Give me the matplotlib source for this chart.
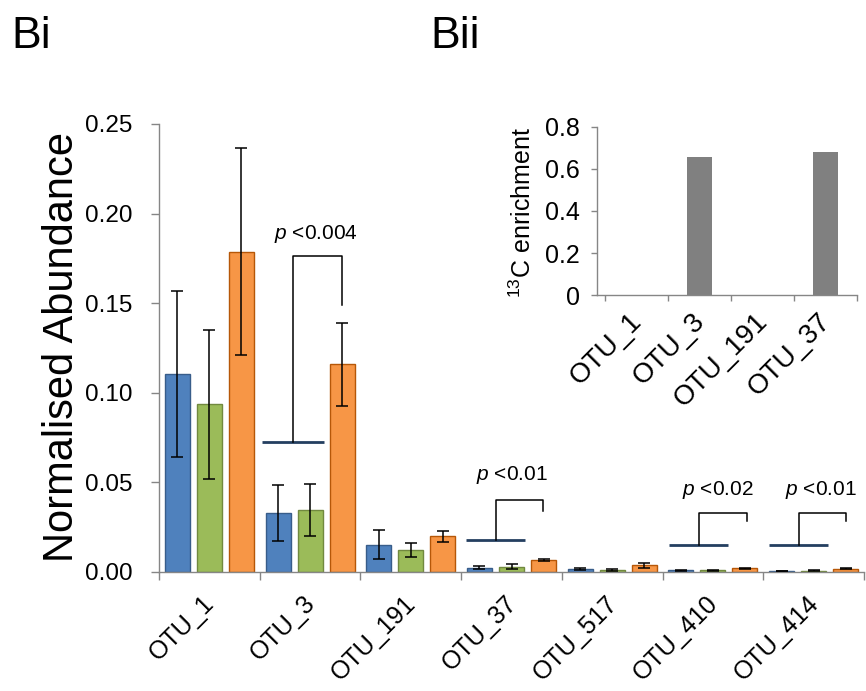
"""Normalised abundance of OTUs per treatment, with 13C enrichment inset."""

import matplotlib

matplotlib.use("Agg")
import matplotlib.pyplot as plt
import matplotlib.transforms as mtransforms
import numpy as np

plt.rcParams.update(
    {
        "font.family": ["Liberation Sans", "DejaVu Sans"],
        "mathtext.fontset": "custom",
        "mathtext.rm": "Liberation Sans",
        "mathtext.it": "Liberation Sans:italic",
    }
)

# main panel data
otus = ["OTU_1", "OTU_3", "OTU_191", "OTU_37", "OTU_517", "OTU_410", "OTU_414"]
blue = [0.1104, 0.0330, 0.0153, 0.0025, 0.0019, 0.0009, 0.0006]
blue_err = [0.0463, 0.0155, 0.0082, 0.0008, 0.0006, 0.0003, 0.0002]
green = [0.0935, 0.0346, 0.0123, 0.0030, 0.0013, 0.0009, 0.0008]
green_err = [0.0414, 0.0144, 0.0041, 0.0016, 0.0005, 0.0002, 0.0002]
orange = [0.1787, 0.1158, 0.0199, 0.0069, 0.0037, 0.0020, 0.0019]
orange_err = [0.0577, 0.0233, 0.0030, 0.0005, 0.0014, 0.0004, 0.0003]
y_ticks = [0.00, 0.05, 0.10, 0.15, 0.20, 0.25]

# inset data
inset_otus = ["OTU_1", "OTU_3", "OTU_191", "OTU_37"]
enrichment = [0.0, 0.655, 0.0, 0.681]
inset_ticks = [0, 0.2, 0.4, 0.6, 0.8]

# significance brackets: label, (base x0, x1, y), (left x, right x, top y, right drop y), text (x, y)
brackets = [
    ("<0.004", (0.522, 1.135, 0.0723), (0.830, 1.317, 0.1763, 0.1489), (1.057, 0.1858)),
    ("<0.01", (2.551, 3.131, 0.0179), (2.843, 3.316, 0.0400, 0.0343), (3.005, 0.0512)),
    ("<0.02", (4.564, 5.150, 0.0153), (4.859, 5.336, 0.0332, 0.0285), (5.044, 0.0432)),
    ("<0.01", (5.560, 6.140, 0.0153), (5.852, 6.322, 0.0332, 0.0285), (6.070, 0.0432)),
]

W, H = 866, 691
GREY = "#868686"
NAVY = "#243F60"


def px_axes(l, t, r, b):
    return [l / W, 1 - b / H, (r - l) / W, (b - t) / H]


def shift_labels(fig, labels, dx_px):
    off = mtransforms.ScaledTranslation(dx_px / fig.dpi, 0, fig.dpi_scale_trans)
    for lab in labels:
        lab.set_transform(lab.get_transform() + off)


def main():
    fig = plt.figure(figsize=(W / 100, H / 100), dpi=100)

    ax = fig.add_axes(px_axes(159, 124, 864, 572))
    x = np.arange(len(otus))
    off, bw = 0.318, 0.248
    series = [
        (blue, blue_err, "#4F81BD", "#385D8A", -off),
        (green, green_err, "#9BBB59", "#71893F", 0.0),
        (orange, orange_err, "#F79646", "#B65708", off),
    ]
    for vals, err, fc, ec, dx in series:
        ax.bar(x + dx, vals, width=bw, color=fc, edgecolor=ec, linewidth=1.0, zorder=2)
        ax.errorbar(
            x + dx, vals, yerr=err, fmt="none", ecolor="black",
            elinewidth=1.1, capsize=4.3, capthick=1.1, zorder=3,
        )

    for text, (bx0, bx1, by), (lx, rx, ty, ry), (tx, tyy) in brackets:
        ax.plot([bx0, bx1], [by, by], color=NAVY, lw=2.0, solid_capstyle="butt", zorder=4)
        ax.plot([lx, lx, rx, rx], [by, ty, ty, ry], color="black", lw=1.1, zorder=4)
        ax.text(tx, tyy, "$p$ " + text, ha="center", va="baseline", fontsize=15)

    ax.set_xlim(-0.5, len(otus) - 0.5)
    ax.set_ylim(0, 0.25)
    ax.set_yticks(y_ticks)
    ax.set_yticklabels([f"{v:.2f}" for v in y_ticks])
    ax.set_xticks(x)
    ax.set_xticklabels(otus, rotation=45, ha="right", va="center", rotation_mode="anchor")
    ax.set_xticks(np.arange(-0.5, len(otus), 1.0), minor=True)
    ax.tick_params(axis="x", which="major", length=0, pad=20, labelsize=18)
    ax.tick_params(axis="x", which="minor", length=5.5, width=1.0, color=GREY)
    ax.tick_params(axis="y", length=6, width=1.0, color=GREY, pad=13, labelsize=17.5)
    shift_labels(fig, ax.get_xticklabels(), 1.5)
    for side in ("top", "right"):
        ax.spines[side].set_visible(False)
    for side in ("left", "bottom"):
        ax.spines[side].set_color(GREY)
        ax.spines[side].set_linewidth(1.0)

    # inset
    ins = fig.add_axes(px_axes(597.3, 126.7, 856.7, 295.3))
    ins.set_facecolor("none")
    xi = np.arange(len(inset_otus))
    ins.bar(xi, enrichment, width=0.39, color="#808080", linewidth=0)
    ins.set_xlim(-0.625, len(inset_otus) - 0.5)
    ins.set_ylim(0, 0.8)
    ins.set_yticks(inset_ticks)
    ins.set_yticklabels([f"{v:g}" for v in inset_ticks])
    ins.set_xticks(xi)
    ins.set_xticklabels(inset_otus, rotation=45, ha="right", va="center", rotation_mode="anchor")
    ins.set_xticks(np.arange(-0.5, len(inset_otus), 1.0), minor=True)
    ins.tick_params(axis="x", which="major", length=0, pad=16, labelsize=20)
    ins.tick_params(axis="x", which="minor", length=4.5, width=1.0, color=GREY)
    ins.tick_params(axis="y", length=4.5, width=1.0, color=GREY, pad=8, labelsize=18)
    shift_labels(fig, ins.get_xticklabels(), 1.5)
    for side in ("top", "right"):
        ins.spines[side].set_visible(False)
    for side in ("left", "bottom"):
        ins.spines[side].set_color(GREY)
        ins.spines[side].set_linewidth(1.0)

    fig.text(523 / W, 1 - 213 / H, "$^{13}$C enrichment", rotation=90,
             ha="center", va="center", fontsize=18)
    fig.text(62 / W, 1 - 347 / H, "Normalised Abundance", rotation=90,
             ha="center", va="center", fontsize=30)
    fig.text(11.7 / W, 1 - 48.3 / H, "Bi", ha="left", va="baseline", fontsize=32)
    fig.text(430.7 / W, 1 - 48.3 / H, "Bii", ha="left", va="baseline", fontsize=32)

    fig.savefig("out.png", dpi=100)


if __name__ == "__main__":
    main()
